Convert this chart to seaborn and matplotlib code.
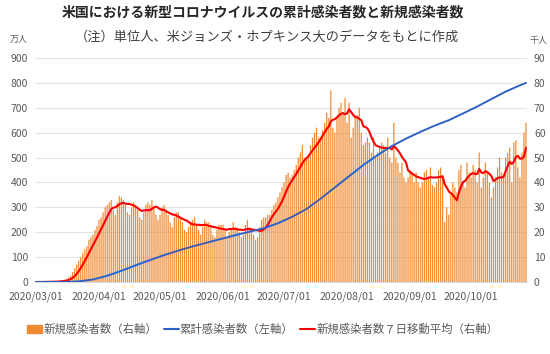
import numpy as np
import pandas as pd
import seaborn as sns
import matplotlib.pyplot as plt
from matplotlib.patches import Patch
from matplotlib.lines import Line2D

# daily new cases (thousand people), one value per day from 2020/03/01
daily_new = [
    0.0, 0.0, 0.0, 0.1, 0.1, 0.1, 0.1,
    0.1, 0.1, 0.2, 0.3, 0.3, 0.5, 0.6,
    0.9, 1.2, 1.8, 2.6, 4.0, 5.5, 7.0,
    8.5, 10, 11.5, 13, 14.5, 17, 18,
    19, 21, 22.5, 25, 26, 28, 30,
    31, 32, 33, 29, 27, 32, 34.5,
    34, 33, 31, 28, 27, 30, 32,
    31, 29, 26, 25, 28, 31, 32,
    31, 33, 30, 27, 25, 27, 30,
    31, 29, 27, 24, 22, 26, 28,
    28, 26, 24, 21, 20, 22, 24,
    25, 26, 23, 21, 19, 22, 25,
    24, 24, 22, 19, 18, 21, 23,
    23, 23, 21, 18, 20, 21, 24,
    22, 22, 20, 18, 19, 23, 25,
    22, 21, 19, 17, 18, 22, 25,
    26, 26, 27, 27, 29, 31, 32,
    34, 36, 38, 40, 43, 44, 42,
    43, 45, 47, 50, 52, 55, 50,
    49, 51, 55, 58, 60, 62, 58,
    58, 61, 64, 68, 66, 77, 62,
    60, 66, 70, 72, 68, 74, 64,
    72, 58, 62, 66, 67, 70, 60,
    55, 56, 58, 56, 52, 58, 50,
    52, 54, 56, 55, 52, 58, 50,
    48, 64, 50, 48, 44, 48, 42,
    40, 42, 45, 44, 40, 44, 40,
    38, 40, 44, 45, 42, 46, 39,
    38, 40, 45, 46, 43, 24, 30,
    27, 35, 40, 38, 36, 45, 47,
    40, 38, 48, 44, 42, 47, 45,
    40, 52, 38, 42, 48, 44, 40,
    34, 38, 42, 46, 50, 44, 42,
    50, 52, 54, 40, 56, 57, 46,
    42, 52, 60, 64,
]

# cumulative cases (ten-thousand people)
cum_days = [0, 7, 14, 21, 28, 35, 42, 49, 56, 63, 70, 77, 84, 91, 98, 105, 112, 119,
            126, 133, 140, 147, 154, 161, 168, 175, 182, 189, 196, 203, 210, 217,
            224, 231, 238, 241]
cum_values = [0.01, 0.05, 0.3, 2.5, 10, 25, 45, 67, 88, 108, 126, 143, 158, 173, 188,
              202, 216, 236, 262, 293, 335, 380, 425, 470, 510, 546, 576, 603, 628,
              650, 677, 705, 735, 765, 790, 800]

start_date = "2020-03-01"
month_labels = ["2020/03/01", "2020/04/01", "2020/05/01", "2020/06/01",
                "2020/07/01", "2020/08/01", "2020/09/01", "2020/10/01"]

title = "米国における新型コロナウイルスの累計感染者数と新規感染者数"
subtitle = "（注）単位人、米ジョンズ・ホプキンス大のデータをもとに作成"
legend_labels = ["新規感染者数（右軸）", "累計感染者数（左軸）", "新規感染者数７日移動平均（右軸）"]

sns.set_style("white")
plt.rcParams["font.family"] = ["Noto Sans CJK JP", "DejaVu Sans"]

df = pd.DataFrame({"day": np.arange(len(daily_new)), "new": daily_new})
df["ma7"] = df["new"].rolling(7, min_periods=1).mean()
cum = pd.DataFrame({"day": cum_days, "cum": cum_values})

orange = "#F08A32"
blue = "#2E62C4"
red = "#FF0000"
grey = "#595959"

fig = plt.figure(figsize=(5.5, 3.54), dpi=100)
ax1 = fig.add_axes([35 / 550, 1 - 282 / 354, 492 / 550, 224 / 354])
ax2 = ax1.twinx()

# right axis: bars + moving average
sns.barplot(data=df, x="day", y="new", native_scale=True, color=orange,
            width=0.6, saturation=1, linewidth=0, edgecolor="none",
            ax=ax2, zorder=2)
for p in ax2.patches:
    p.set_snap(False)
sns.lineplot(data=df, x="day", y="ma7", color=red, lw=1.5, ax=ax2, zorder=4)

# left axis: cumulative, drawn on top of the bars
sns.lineplot(data=cum, x="day", y="cum", color=blue, lw=1.4, ax=ax1, zorder=3)
ax1.set_zorder(ax2.get_zorder() + 1)
ax1.patch.set_visible(False)

ax1.set_ylim(0, 900)
ax2.set_ylim(0, 90)
ax1.set_yticks(range(0, 901, 100))
ax2.set_yticks(range(0, 91, 10))
ax1.set_xlim(-0.5, len(daily_new) - 0.5)

month_pos = (pd.to_datetime(month_labels) - pd.Timestamp(start_date)).days
ax1.set_xticks(month_pos)
ax1.set_xticklabels(month_labels)

for ax in (ax1, ax2):
    ax.set_xlabel("")
    ax.set_ylabel("")
    for s in ax.spines.values():
        s.set_visible(False)
    ax.tick_params(length=0, labelsize=7.5, labelcolor=grey, pad=5)
ax1.tick_params(axis="x", pad=7)
ax1.spines["bottom"].set_visible(True)
ax1.spines["bottom"].set_color("#d9d9d9")
ax2.grid(axis="y", color="#e3e3e3", lw=0.8, zorder=0)
ax2.set_axisbelow(True)

fig.text(0.478, 0.965, title, ha="center", va="center", fontsize=10,
         fontweight="bold", color="#262626")
fig.text(0.485, 0.895, subtitle, ha="center", va="center", fontsize=9.5,
         color="#404040")
fig.text(0.018, 0.89, "万人", ha="left", va="center", fontsize=6.5, color=grey)
fig.text(0.962, 0.885, "千人", ha="left", va="center", fontsize=6.5, color=grey)

handles = [Patch(color=orange), Line2D([], [], color=blue, lw=1.5),
           Line2D([], [], color=red, lw=1.5)]
fig.legend(handles, legend_labels, loc="center", bbox_to_anchor=(0.478, 0.07),
           ncol=3, frameon=False, fontsize=8.2, handlelength=1.3,
           handletextpad=0.1, columnspacing=0.6, labelcolor=grey)

fig.savefig("out.png", dpi=100)
